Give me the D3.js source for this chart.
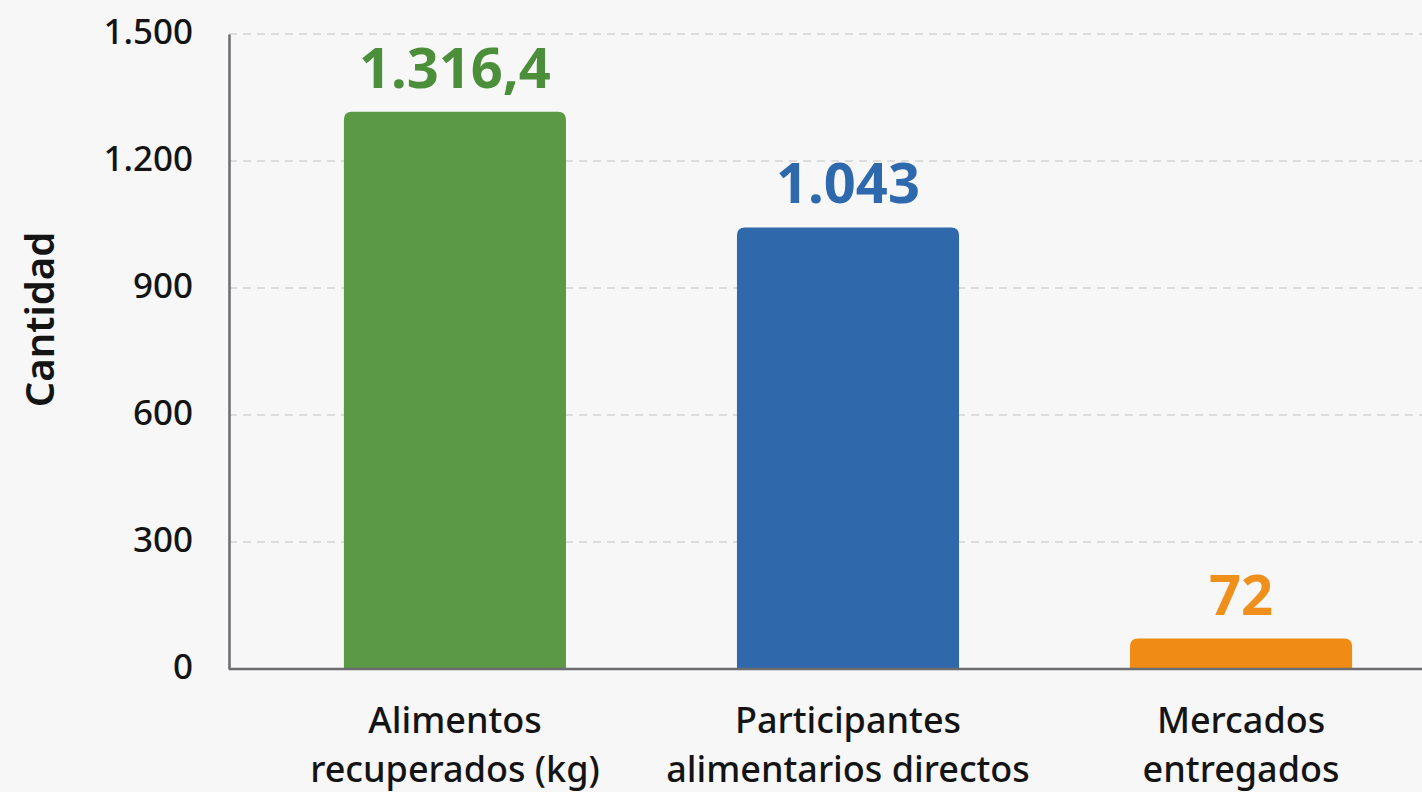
<!DOCTYPE html>
<html>
<head>
<meta charset="utf-8">
<script src="https://cdn.jsdelivr.net/npm/d3@7"></script>
<style>
  html, body { margin: 0; padding: 0; background: #f7f7f7; }
  svg { display: block; font-family: "Noto Sans", "Open Sans", sans-serif; }
</style>
</head>
<body>
<svg id="chart" width="1422" height="792"></svg>
<script>
const categories = [
  ["Alimentos", "recuperados (kg)"],
  ["Participantes", "alimentarios directos"],
  ["Mercados", "entregados"],
];
const values = [1316.4, 1043, 72];
const valueLabels = ["1.316,4", "1.043", "72"];
const barColors = ["#5b9945", "#2f68ab", "#f08c14"];
const labelColors = ["#4b8f3b", "#2e69ad", "#f0901c"];
const yTicks = [0, 300, 600, 900, 1200, 1500];

const W = 1422, H = 792;
const margin = { top: 34, bottom: 123, left: 229 };

const esLocale = d3.formatLocale({ decimal: ",", thousands: ".", grouping: [3], currency: ["", " €"] });
const fmt = esLocale.format(",d");

const svg = d3.select("#chart");

// bands run a little past the right edge, as in the original layout
const x = d3.scaleBand()
  .domain(d3.range(values.length))
  .range([margin.left + 30, W + 15])
  .paddingInner(0.435)
  .paddingOuter(0.216);

const y = d3.scaleLinear()
  .domain([0, 1500])
  .range([H - margin.bottom, margin.top]);

// grid
svg.append("g")
  .selectAll("line")
  .data(yTicks.filter(d => d > 0))
  .join("line")
  .attr("x1", margin.left)
  .attr("x2", W)
  .attr("y1", d => y(d))
  .attr("y2", d => y(d))
  .attr("stroke", "#d3d3d3")
  .attr("stroke-width", 1.5)
  .attr("stroke-dasharray", "8,6");

// bars with rounded top corners
const r = 8;
svg.append("g")
  .selectAll("path")
  .data(values)
  .join("path")
  .attr("fill", (d, i) => barColors[i])
  .attr("d", (d, i) => {
    const x0 = x(i), x1 = x(i) + x.bandwidth();
    const y0 = y(0), y1 = y(d);
    return `M${x0},${y0}V${y1 + r}Q${x0},${y1} ${x0 + r},${y1}H${x1 - r}Q${x1},${y1} ${x1},${y1 + r}V${y0}Z`;
  });

// value labels
svg.append("g")
  .selectAll("text")
  .data(values)
  .join("text")
  .attr("x", (d, i) => x(i) + x.bandwidth() / 2)
  .attr("y", d => y(d) - 24)
  .attr("text-anchor", "middle")
  .attr("font-size", 56)
  .attr("font-weight", 700)
  .attr("fill", (d, i) => labelColors[i])
  .text((d, i) => valueLabels[i]);

// y axis
const yAxis = d3.axisLeft(y)
  .tickValues(yTicks)
  .tickSize(0)
  .tickPadding(36)
  .tickFormat(fmt);

const gy = svg.append("g")
  .attr("transform", `translate(${margin.left},0)`)
  .call(yAxis);
gy.select(".domain").attr("stroke", "#6b6b70").attr("stroke-width", 2.5);
gy.selectAll("text")
  .attr("font-size", 35)
  .attr("font-weight", 500)
  .attr("fill", "#141414")
  .attr("dy", "0.28em")
  .attr("font-family", "'Noto Sans', sans-serif");

// x axis baseline
svg.append("line")
  .attr("x1", margin.left)
  .attr("x2", W)
  .attr("y1", y(0))
  .attr("y2", y(0))
  .attr("stroke", "#6b6b70")
  .attr("stroke-width", 2.5);

// category labels
const cat = svg.append("g")
  .selectAll("text")
  .data(categories)
  .join("text")
  .attr("text-anchor", "middle")
  .attr("font-size", 36)
  .attr("font-weight", 500)
  .attr("fill", "#141414")
  .attr("transform", (d, i) => `translate(${x(i) + x.bandwidth() / 2},${y(0) + 64})`);
cat.selectAll("tspan")
  .data(d => d)
  .join("tspan")
  .attr("x", 0)
  .attr("dy", (d, j) => j === 0 ? 0 : 49)
  .text(d => d);

// y axis title
svg.append("text")
  .attr("transform", `translate(54,${(y(0) + y(1500)) / 2 - 32}) rotate(-90)`)
  .attr("text-anchor", "middle")
  .attr("font-size", 40)
  .attr("font-weight", 600)
  .attr("fill", "#141414")
  .text("Cantidad");
</script>
</body>
</html>
